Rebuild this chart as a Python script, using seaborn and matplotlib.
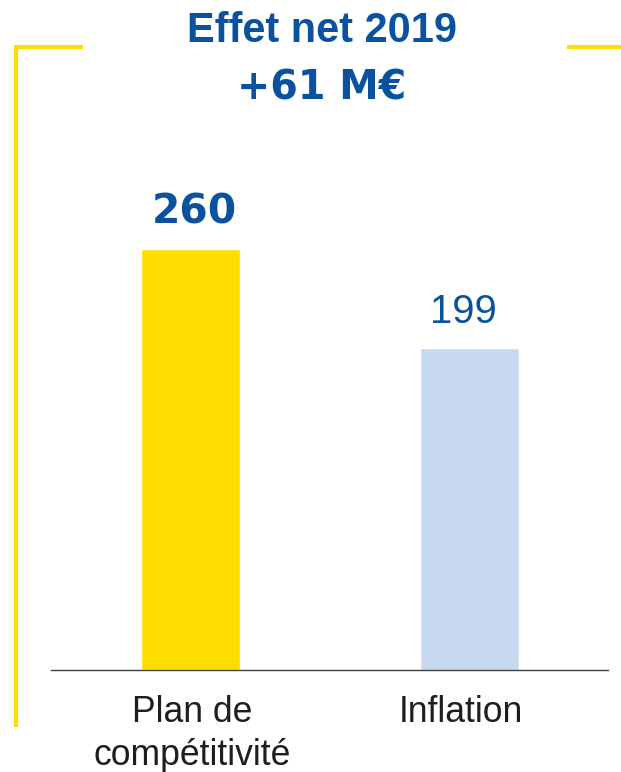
import matplotlib
matplotlib.use("Agg")
import matplotlib.pyplot as plt
import matplotlib.transforms as mtransforms
from matplotlib.lines import Line2D
import seaborn as sns
import pandas as pd

# Data
categories = ["Plan de\ncompétitivité", "Inflation"]
values = [260, 199]
bar_colors = ["#FFDD00", "#C6D9F0"]
value_labels = ["260", "199"]
title_line1 = "Effet net 2019"
title_line2 = "+61 M€"

DARK_BLUE = "#0A52A0"
YELLOW = "#FFDD00"

sns.set_theme(style="white")
plt.rcParams["font.family"] = ["Liberation Sans", "DejaVu Sans"]

W, H = 621, 772
fig = plt.figure(figsize=(W / 100, H / 100), dpi=100)

ax_left, ax_right, ax_bottom, ax_top = 51, 608, 670, 100
ax = fig.add_axes([ax_left / W, (H - ax_bottom) / H,
                   (ax_right - ax_left) / W, (ax_bottom - ax_top) / H])

df = pd.DataFrame({"cat": categories, "val": values})
sns.barplot(data=df, x="cat", y="val", hue="cat", palette=bar_colors,
            width=0.355, legend=False, ax=ax, saturation=1)

ax.set_xlim(-0.5, 1.4964)
ax.set_ylim(0, 352.3)

for s in ["left", "top", "right"]:
    ax.spines[s].set_visible(False)
ax.spines["bottom"].set_color("#404040")
ax.spines["bottom"].set_linewidth(1.0)
ax.set_yticks([])
ax.set_xlabel("")
ax.set_ylabel("")
ax.tick_params(axis="x", length=0, pad=18, labelsize=25.6, labelcolor="#1E1E1E")

label_shifts = [2, -9]  # pixels
for lab, dx in zip(ax.get_xticklabels(), label_shifts):
    lab.set_linespacing(1.28)
    lab.set_transform(lab.get_transform() +
                      mtransforms.ScaledTranslation(dx / 100, 0, fig.dpi_scale_trans))

# value labels
for i, (v, lab) in enumerate(zip(values, value_labels)):
    if i == 0:
        ax.annotate(lab, xy=(i, v), xytext=(2.5, 18.5), textcoords="offset points",
                    ha="center", va="baseline", color=DARK_BLUE,
                    fontsize=29.3, fontweight="bold", family="DejaVu Sans")
    else:
        ax.annotate(lab, xy=(i, v), xytext=(-4.3, 18), textcoords="offset points",
                    ha="center", va="baseline", color=DARK_BLUE,
                    fontsize=28.8, family="Liberation Sans")

# title texts
fig.text(322 / W, (H - 42) / H, title_line1, ha="center", va="baseline",
         color=DARK_BLUE, fontsize=29.9, fontweight="bold", family="Liberation Sans")
fig.text(322 / W, (H - 100) / H, title_line2, ha="center", va="baseline",
         color=DARK_BLUE, fontsize=28.5, fontweight="bold", family="DejaVu Sans")

# yellow bracket
def fx(x):
    return x / W

def fy(y):
    return (H - y) / H

fig.add_artist(Line2D([fx(83), fx(15.5), fx(15.5)], [fy(47), fy(47), fy(727)],
                      color=YELLOW, linewidth=3.0, solid_joinstyle="miter",
                      solid_capstyle="butt"))
fig.add_artist(Line2D([fx(567), fx(621)], [fy(47), fy(47)],
                      color=YELLOW, linewidth=3.0, solid_capstyle="butt"))

fig.savefig("out.png", dpi=100)
